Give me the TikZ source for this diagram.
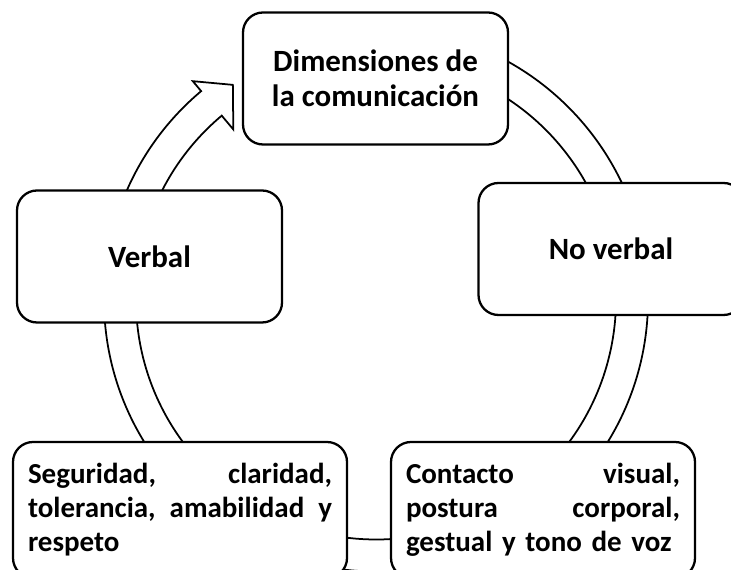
\documentclass[tikz,border=0pt]{standalone}
\usepackage{fontspec}
\setmainfont{Carlito}
\usepackage{tikz}

\tikzset{
  cyclebox/.style={draw, line width=1.3pt, fill=white, rounded corners=0.4cm,
    minimum width=5.3cm, minimum height=2.64cm, align=center,
    font=\fontsize{17.6}{19.9}\selectfont\bfseries},
  detailbox/.style={cyclebox, minimum height=2.72cm, inner xsep=0.3cm, align=left,
    font=\fontsize{16.5}{19.35}\selectfont\bfseries},
  ringband/.style={draw, line width=1pt, fill=white, line join=miter}
}

\begin{document}
\begin{tikzpicture}
  \useasboundingbox (0,0) rectangle (14.62,11.38);

  \begin{scope}[shift={(7.52,5.39)}]
    \draw[ringband] (90:5.44) arc[start angle=90, end angle=-230, radius=5.44]
      -- (130:5.70) -- (123.7:5.16) -- (130:4.44) -- (130:4.80)
      arc[start angle=-230, end angle=90, radius=4.80] -- cycle;
  \end{scope}

  \node[cyclebox] (dim) at (7.51,9.81) {Dimensiones de\\la comunicación};
  \node[cyclebox] (verbal) at (2.99,6.25) {Verbal};
  \node[cyclebox] (noverbal) at (12.22,6.40) {No verbal};

  \node[detailbox, text width=6.08cm] (verbaldet) at (3.60,1.18)
    {Seguridad,\hfill claridad,\\tolerancia,\hfill amabilidad\hfill y\\respeto};
  \node[detailbox, text width=5.48cm] (noverbaldet) at (10.86,1.18)
    {Contacto\hfill visual,\\postura\hfill corporal,\\gestual y tono de voz};
\end{tikzpicture}
\end{document}
